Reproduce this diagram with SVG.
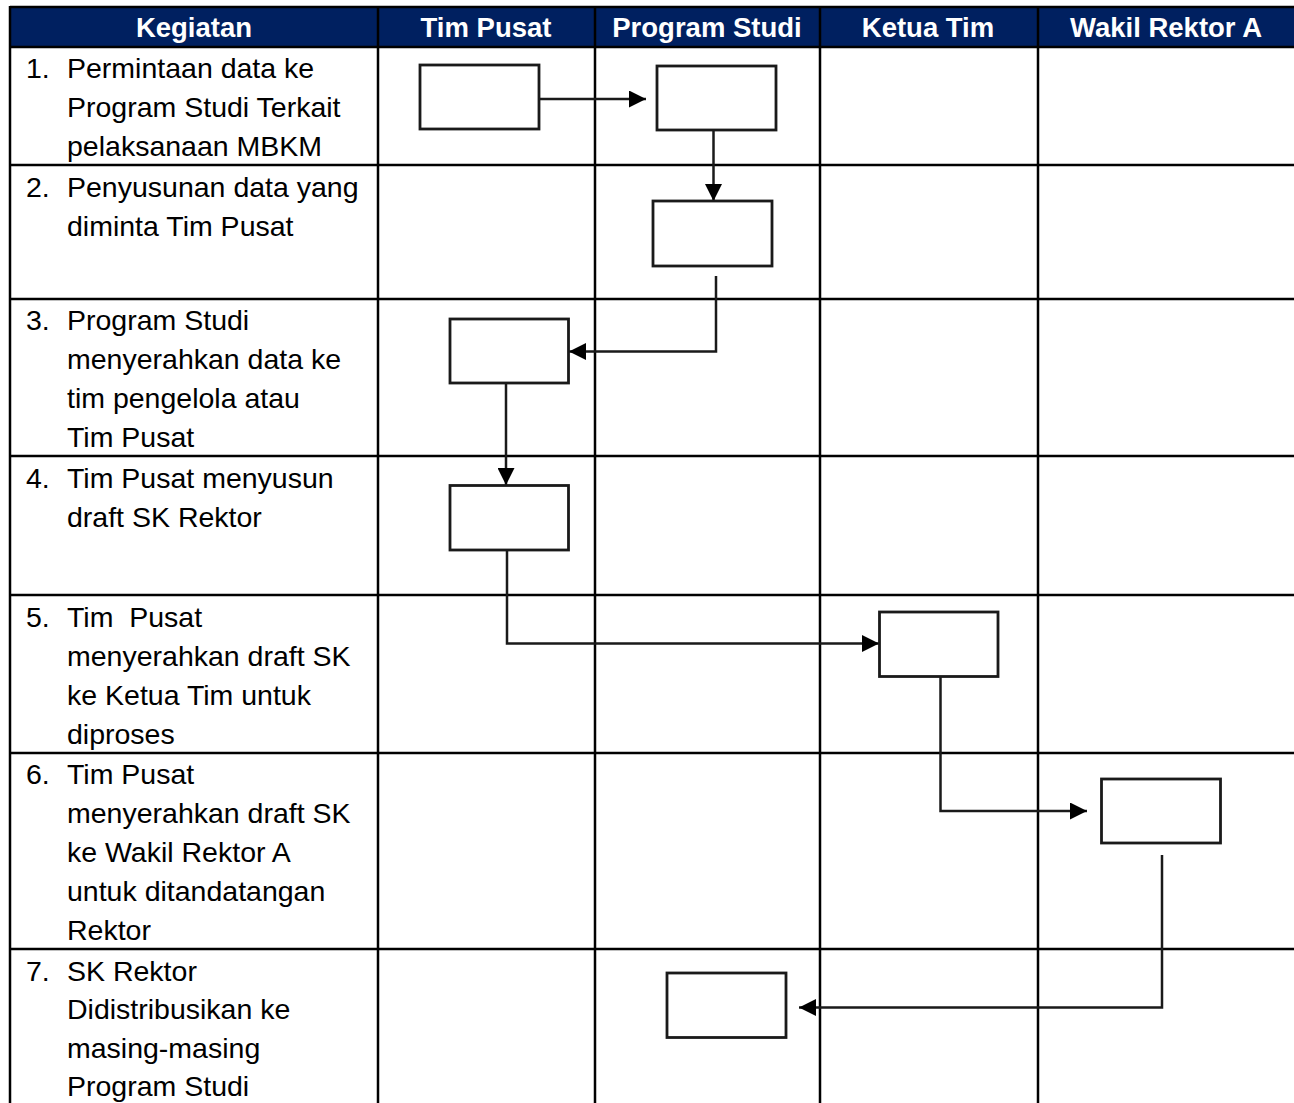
<svg xmlns="http://www.w3.org/2000/svg" width="1294" height="1103" viewBox="0 0 1294 1103">
<style>
.hd{font-family:"Liberation Sans",Arial,sans-serif;font-weight:bold;font-size:27.5px;fill:#fff;text-anchor:middle}
.tx{font-family:"Liberation Sans",Arial,sans-serif;font-size:28.5px;fill:#000;white-space:pre}
.grid{stroke:#000;stroke-width:2.5;fill:none}
.box{fill:#fff;stroke:#1a1a1a;stroke-width:2.8}
.con{fill:none;stroke:#1a1a1a;stroke-width:2.5}
</style>
<defs>
<marker id="ah" viewBox="0 0 16 16" refX="16" refY="8" markerWidth="17" markerHeight="17" markerUnits="userSpaceOnUse" orient="auto">
<path d="M0,0 L16,8 L0,16 Z" fill="#000"/>
</marker>
</defs>
<rect x="0" y="0" width="1294" height="1103" fill="#fff"/>
<g id="header">
<rect x="10" y="7" width="1284" height="40" fill="#002060"/>
<text class="hd" x="194" y="37">Kegiatan</text>
<text class="hd" x="486" y="37">Tim Pusat</text>
<text class="hd" x="707" y="37">Program Studi</text>
<text class="hd" x="928" y="37">Ketua Tim</text>
<text class="hd" x="1166" y="37">Wakil Rektor A</text>
</g>
<g id="grid" class="grid">
<line x1="10" y1="7" x2="1294" y2="7"/>
<line x1="10" y1="47" x2="1294" y2="47"/>
<line x1="10" y1="165" x2="1294" y2="165"/>
<line x1="10" y1="299" x2="1294" y2="299"/>
<line x1="10" y1="456" x2="1294" y2="456"/>
<line x1="10" y1="595" x2="1294" y2="595"/>
<line x1="10" y1="753" x2="1294" y2="753"/>
<line x1="10" y1="949" x2="1294" y2="949"/>
<line x1="10" y1="6" x2="10" y2="1103"/>
<line x1="378" y1="6" x2="378" y2="1103"/>
<line x1="595" y1="6" x2="595" y2="1103"/>
<line x1="820" y1="6" x2="820" y2="1103"/>
<line x1="1038" y1="6" x2="1038" y2="1103"/>
</g>
<g id="activities">
<g id="act1"><text class="tx" x="26" y="78">1.</text><text class="tx" x="67" y="78">Permintaan data ke</text><text class="tx" x="67" y="117">Program Studi Terkait</text><text class="tx" x="67" y="156">pelaksanaan MBKM</text></g>
<g id="act2"><text class="tx" x="26" y="197">2.</text><text class="tx" x="67" y="197">Penyusunan data yang</text><text class="tx" x="67" y="236">diminta Tim Pusat</text></g>
<g id="act3"><text class="tx" x="26" y="330">3.</text><text class="tx" x="67" y="330">Program Studi</text><text class="tx" x="67" y="369">menyerahkan data ke</text><text class="tx" x="67" y="408">tim pengelola atau</text><text class="tx" x="67" y="447">Tim Pusat</text></g>
<g id="act4"><text class="tx" x="26" y="488">4.</text><text class="tx" x="67" y="488">Tim Pusat menyusun</text><text class="tx" x="67" y="527">draft SK Rektor</text></g>
<g id="act5"><text class="tx" x="26" y="627">5.</text><text class="tx" x="67" y="627">Tim  Pusat</text><text class="tx" x="67" y="666">menyerahkan draft SK</text><text class="tx" x="67" y="705">ke Ketua Tim untuk</text><text class="tx" x="67" y="744">diproses</text></g>
<g id="act6"><text class="tx" x="26" y="784">6.</text><text class="tx" x="67" y="784">Tim Pusat</text><text class="tx" x="67" y="823">menyerahkan draft SK</text><text class="tx" x="67" y="862">ke Wakil Rektor A</text><text class="tx" x="67" y="901">untuk ditandatangan</text><text class="tx" x="67" y="940">Rektor</text></g>
<g id="act7"><text class="tx" x="26" y="981">7.</text><text class="tx" x="67" y="981">SK Rektor</text><text class="tx" x="67" y="1019">Didistribusikan ke</text><text class="tx" x="67" y="1058">masing-masing</text><text class="tx" x="67" y="1096">Program Studi</text></g>
</g>
<g id="connectors">
<path class="con" d="M539,99 H646" marker-end="url(#ah)"/>
<path class="con" d="M713.5,130 V201" marker-end="url(#ah)"/>
<path class="con" d="M716,276 V351.5 H569" marker-end="url(#ah)"/>
<path class="con" d="M506,383 V485" marker-end="url(#ah)"/>
<path class="con" d="M507,550 V643.5 H879" marker-end="url(#ah)"/>
<path class="con" d="M940.5,676 V811 H1087" marker-end="url(#ah)"/>
<path class="con" d="M1162,855 V1007.5 H799" marker-end="url(#ah)"/>
</g>
<g id="node1"><rect class="box" x="420" y="65" width="119" height="64"/></g>
<g id="node2"><rect class="box" x="657" y="66" width="119" height="64"/></g>
<g id="node3"><rect class="box" x="653" y="201" width="119" height="65"/></g>
<g id="node4"><rect class="box" x="450" y="319" width="118.5" height="64"/></g>
<g id="node5"><rect class="box" x="450" y="485.5" width="118.5" height="64.5"/></g>
<g id="node6"><rect class="box" x="879.5" y="612" width="118.5" height="64.5"/></g>
<g id="node7"><rect class="box" x="1101.5" y="779" width="119" height="64"/></g>
<g id="node8"><rect class="box" x="667" y="973" width="119" height="64.5"/></g>
</svg>
